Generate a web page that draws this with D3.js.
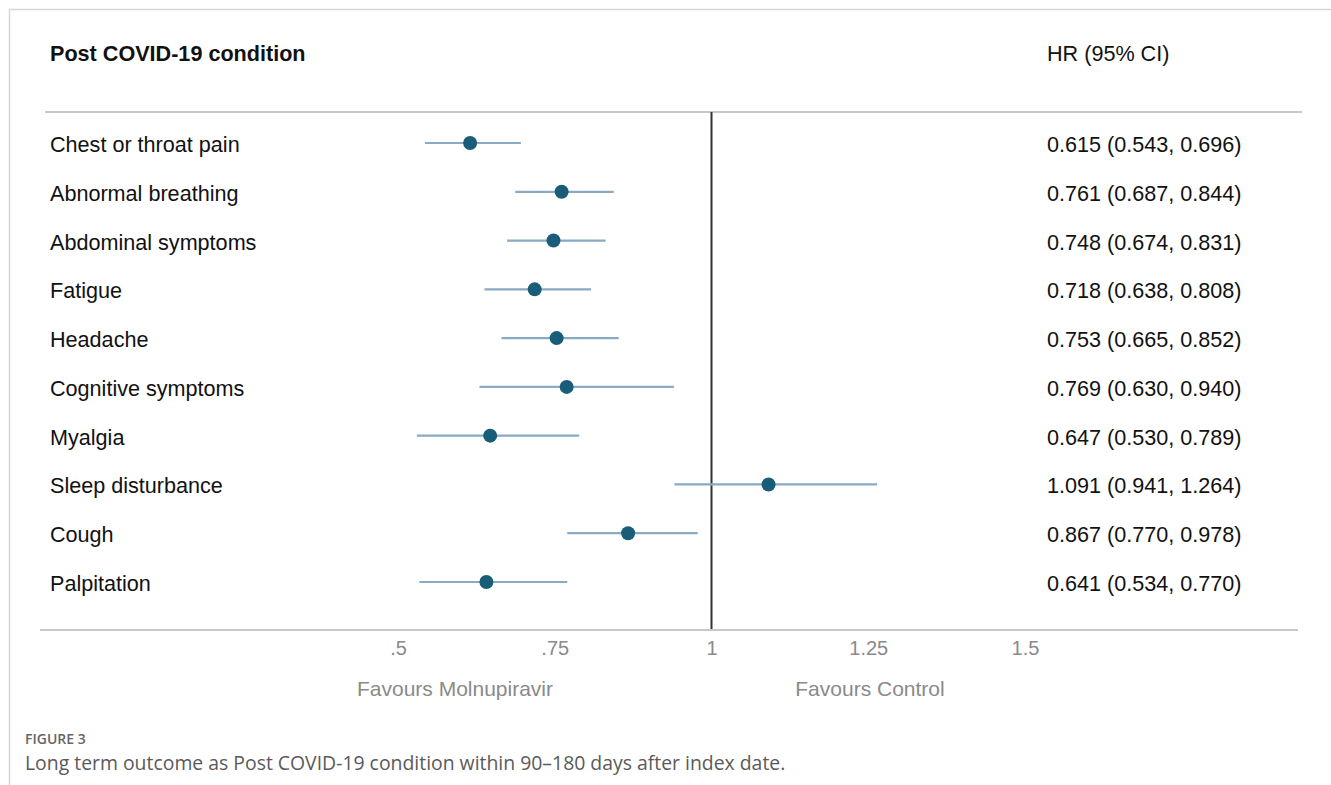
<!DOCTYPE html>
<html><head><meta charset="utf-8">
<script src="https://cdn.jsdelivr.net/npm/d3@7"></script>
<style>html,body{margin:0;padding:0;background:#fff;}svg{display:block;}</style>
</head><body>
<svg id="c" width="1331" height="785"></svg>
<script>
const conditions = ["Chest or throat pain","Abnormal breathing","Abdominal symptoms","Fatigue","Headache","Cognitive symptoms","Myalgia","Sleep disturbance","Cough","Palpitation"];
const hr    = [0.615,0.761,0.748,0.718,0.753,0.769,0.647,1.091,0.867,0.641];
const lower = [0.543,0.687,0.674,0.638,0.665,0.630,0.530,0.941,0.770,0.534];
const upper = [0.696,0.844,0.831,0.808,0.852,0.940,0.789,1.264,0.978,0.770];
const tickValues = [0.5,0.75,1,1.25,1.5];
const tickLabels = [".5",".75","1","1.25","1.5"];

const svg = d3.select("#c");
const font = "'Liberation Sans', Arial, Helvetica, sans-serif";
const fs = 21.6;

// frame
svg.append("line").attr("x1",9).attr("x2",1331).attr("y1",9.5).attr("y2",9.5).attr("stroke","#d6d6d6").attr("stroke-width",1.5);
svg.append("line").attr("x1",9.5).attr("x2",9.5).attr("y1",9).attr("y2",785).attr("stroke","#d6d6d6").attr("stroke-width",1.5);

const x = d3.scaleLinear().domain([0.5,1.5]).range([398,1025]);
const y = d3.scalePoint().domain(conditions).range([143,582]);

// header
svg.append("text").attr("x",50).attr("y",61).attr("font-family",font).attr("font-size",fs).attr("font-weight","bold").attr("fill","#111").text("Post COVID-19 condition");
svg.append("text").attr("x",1047).attr("y",61).attr("font-family",font).attr("font-size",fs).attr("fill","#111").text("HR (95% CI)");

// header rule
svg.append("line").attr("x1",45).attr("x2",1302).attr("y1",112).attr("y2",112).attr("stroke","#c8c8c8").attr("stroke-width",2);

// reference line
svg.append("line").attr("x1",x(1)).attr("x2",x(1)).attr("y1",112).attr("y2",630).attr("stroke","#333").attr("stroke-width",2);

// bottom axis
const axis = d3.axisBottom(x).tickValues(tickValues).tickFormat((d,i)=>tickLabels[i]).tickSize(0).tickPadding(0);
const ag = svg.append("g").attr("transform","translate(0,630)").call(axis);
ag.select(".domain").remove();
ag.selectAll("text").attr("dy",null).attr("y",25).attr("font-family",font).attr("font-size",20).attr("fill","#8a8a8a");
svg.append("line").attr("x1",40).attr("x2",1298).attr("y1",630).attr("y2",630).attr("stroke","#c8c8c8").attr("stroke-width",2);

svg.append("text").attr("x",455).attr("y",696).attr("text-anchor","middle").attr("font-family",font).attr("font-size",21).attr("fill","#8a8a8a").text("Favours Molnupiravir");
svg.append("text").attr("x",870).attr("y",696).attr("text-anchor","middle").attr("font-family",font).attr("font-size",21).attr("fill","#8a8a8a").text("Favours Control");

// rows
const rows = svg.append("g").selectAll("g").data(conditions).join("g");
rows.append("text").attr("x",50).attr("y",d=>y(d)+9).attr("font-family",font).attr("font-size",fs).attr("fill","#111").text(d=>d);
rows.append("line").attr("x1",(d,i)=>x(lower[i])).attr("x2",(d,i)=>x(upper[i])).attr("y1",d=>y(d)).attr("y2",d=>y(d)).attr("stroke","#8aa9c2").attr("stroke-width",2.2);
rows.append("circle").attr("cx",(d,i)=>x(hr[i])).attr("cy",d=>y(d)).attr("r",7).attr("fill","#1a5d78");
rows.append("text").attr("x",1047).attr("y",d=>y(d)+9).attr("font-family",font).attr("font-size",fs).attr("fill","#111").text((d,i)=>`${hr[i].toFixed(3)} (${lower[i].toFixed(3)}, ${upper[i].toFixed(3)})`);

// caption
const cfont = "'Open Sans', 'Noto Sans', sans-serif";
svg.append("text").attr("x",25).attr("y",744).attr("font-family",cfont).attr("font-size",14).attr("font-weight",600).attr("fill","#666").text("FIGURE 3");
svg.append("text").attr("x",25).attr("y",770).attr("font-family",cfont).attr("font-size",19.4).attr("fill","#5a5a5a").text("Long term outcome as Post COVID-19 condition within 90\u2013180 days after index date.");
</script>
</body></html>
